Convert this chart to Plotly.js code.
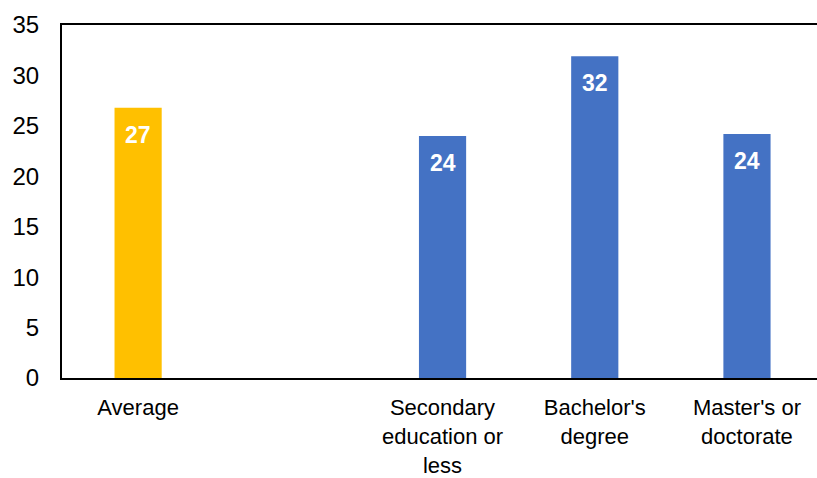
<!DOCTYPE html>
<html>
<head>
<meta charset="utf-8">
<script src="https://cdn.plot.ly/plotly-3.0.1.min.js"></script>
<style>html,body{margin:0;padding:0;background:#fff}#chart{width:817px;height:478px}</style>
</head>
<body>
<div id="chart"></div>
<script>
// Data
const categories = ["Average", "", "Secondary<br>education or<br>less", "Bachelor's<br>degree", "Master's or<br>doctorate"];
const values = [26.8, null, 24.0, 31.9, 24.2];
const barColors = ["#FFC000", null, "#4472C4", "#4472C4", "#4472C4"];
const yTicks = [0, 5, 10, 15, 20, 25, 30, 35];

const idx = categories.map((c, i) => i);
const xs = [], ys = [], cs = [];
idx.forEach(i => { if (values[i] !== null) { xs.push(i); ys.push(values[i]); cs.push(barColors[i]); } });

const trace = {
  type: 'bar',
  x: xs,
  y: ys,
  width: 0.31,
  marker: {color: cs, line: {width: 0}},
  hoverinfo: 'none'
};

const annotations = xs.map((x, k) => ({
  x: x, y: ys[k], xref: 'x', yref: 'y',
  text: '<b>' + Math.round(ys[k]) + '</b>',
  showarrow: false, yanchor: 'top', yshift: -12,
  font: {family: 'Liberation Sans, Arial, sans-serif', size: 23, color: '#ffffff'}
}));

const layout = {
  width: 817, height: 478,
  margin: {l: 62, r: 0, t: 25, b: 100, pad: 0},
  paper_bgcolor: '#ffffff', plot_bgcolor: '#ffffff',
  showlegend: false,
  font: {family: 'Liberation Sans, Arial, sans-serif', size: 22, color: '#000000'},
  xaxis: {
    range: [-0.5, 4.46],
    tickvals: idx, ticktext: categories,
    showline: true, mirror: true, linecolor: '#000', linewidth: 2,
    showgrid: false, zeroline: false, ticks: '',
    ticklabelstandoff: 9,
    tickfont: {size: 22, color: '#000'}
  },
  yaxis: {
    range: [0, 35],
    tickvals: yTicks,
    showline: true, linecolor: '#000', linewidth: 2,
    showgrid: false, zeroline: false, ticks: '',
    ticklabelstandoff: 16,
    tickfont: {size: 24, color: '#000'}
  },
  annotations: annotations
};

Plotly.newPlot('chart', [trace], layout, {displayModeBar: false, staticPlot: true});
</script>
</body>
</html>
